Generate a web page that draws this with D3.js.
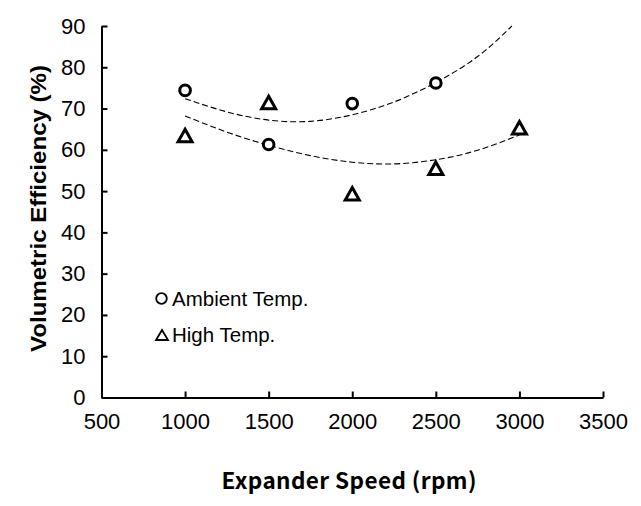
<!DOCTYPE html>
<html>
<head>
<meta charset="utf-8">
<script src="https://cdn.jsdelivr.net/npm/d3@7"></script>
<style>
  html, body { margin: 0; padding: 0; background: #fff; }
  svg { display: block; }
</style>
</head>
<body>
<svg id="chart" width="641" height="506"></svg>
<script>
// ---- Data ----
const xTicks = [500, 1000, 1500, 2000, 2500, 3000, 3500];
const yTicks = [0, 10, 20, 30, 40, 50, 60, 70, 80, 90];

const ambientSpeed = [1000, 1500, 2000, 2500];
const ambientEff   = [74.4, 61.3, 71.2, 76.2];

const highSpeed = [1000, 1500, 2000, 2500, 3000];
const highEff   = [63.4, 71.4, 49.3, 55.5, 65.3];

// dashed trend curves
const ambientTrendSpeed = [1000, 1250, 1500, 1750, 2000, 2250, 2500, 2750, 2955];
const ambientTrendEff   = [72.4, 69.2, 67.2, 66.9, 68.5, 71.6, 76.3, 82.6, 90.0];
const highTrendSpeed = [1000, 1250, 1500, 1750, 2000, 2250, 2500, 2750, 3000];
const highTrendEff   = [68.2, 64.3, 61.1, 58.6, 57.0, 56.6, 57.6, 59.9, 63.6];

const legendLabels = ["Ambient Temp.", "High Temp."];
const xTitle = "Expander Speed (rpm)";
const yTitle = "Volumetric Efficiency (%)";

// ---- Layout ----
const svg = d3.select("#chart");
const x = d3.scaleLinear().domain([500, 3500]).range([101.5, 603]);
const y = d3.scaleLinear().domain([0, 90]).range([397.5, 26]);

const tickFont = "'Liberation Sans', Arial, sans-serif";

// X axis
const gx = svg.append("g")
  .attr("transform", `translate(0,${y(0)})`)
  .call(d3.axisBottom(x).tickValues(xTicks).tickSizeInner(-6).tickSizeOuter(0).tickPadding(16).tickFormat(d3.format("d")));
// Y axis
const gy = svg.append("g")
  .attr("transform", `translate(${x(500)},0)`)
  .call(d3.axisLeft(y).tickValues(yTicks).tickSizeInner(-6).tickSizeOuter(0).tickPadding(16).tickFormat(d3.format("d")));

[gx, gy].forEach(g => {
  g.select(".domain").attr("stroke", "#000").attr("stroke-width", 2);
  g.selectAll(".tick line").attr("stroke", "#000").attr("stroke-width", 2);
  g.selectAll(".tick text").attr("fill", "#000")
    .style("font-family", tickFont).style("font-size", "22px");
});

// Trend lines
const line = d3.line().x(d => x(d[0])).y(d => y(d[1])).curve(d3.curveNatural);
const trends = [
  d3.zip(ambientTrendSpeed, ambientTrendEff),
  d3.zip(highTrendSpeed, highTrendEff)
];
svg.append("g").selectAll("path").data(trends).join("path")
  .attr("d", line)
  .attr("fill", "none")
  .attr("stroke", "#000")
  .attr("stroke-width", 1.1)
  .attr("stroke-dasharray", "6,3");

// Markers
const triPath = "M0,-6.5L7,6L-7,6Z";
svg.append("g").selectAll("circle").data(d3.zip(ambientSpeed, ambientEff)).join("circle")
  .attr("cx", d => x(d[0])).attr("cy", d => y(d[1])).attr("r", 5.3)
  .attr("fill", "#fff").attr("stroke", "#000").attr("stroke-width", 3);
svg.append("g").selectAll("path").data(d3.zip(highSpeed, highEff)).join("path")
  .attr("d", triPath)
  .attr("transform", d => `translate(${x(d[0])},${y(d[1])})`)
  .attr("fill", "#fff").attr("stroke", "#000").attr("stroke-width", 3)
  .attr("stroke-linejoin", "miter");

// Legend
const lg = svg.append("g");
lg.append("circle").attr("cx", 161.5).attr("cy", 298.5).attr("r", 5.3)
  .attr("fill", "none").attr("stroke", "#000").attr("stroke-width", 1.8);
lg.append("path").attr("d", "M0,-5L6,5L-6,5Z").attr("transform", "translate(162,335)")
  .attr("fill", "none").attr("stroke", "#000").attr("stroke-width", 1.8);
lg.selectAll("text").data(legendLabels).join("text")
  .attr("x", 172).attr("y", (d, i) => 306 + i * 36)
  .style("font-family", tickFont).style("font-size", "20.5px").attr("fill", "#000")
  .text(d => d);

// Axis titles
svg.append("text")
  .attr("x", 349).attr("y", 489).attr("text-anchor", "middle")
  .attr("textLength", 255).attr("lengthAdjust", "spacing")
  .style("font-family", "'Noto Sans CJK KR', 'Noto Sans', sans-serif")
  .style("font-weight", "bold").style("font-size", "22.5px").attr("fill", "#000")
  .text(xTitle);
svg.append("text")
  .attr("transform", "translate(46,208.5) rotate(-90)")
  .attr("text-anchor", "middle")
  .attr("textLength", 287).attr("lengthAdjust", "spacingAndGlyphs")
  .style("font-family", tickFont)
  .style("font-weight", "bold").style("font-size", "22px").attr("fill", "#000")
  .text(yTitle);
</script>
</body>
</html>
